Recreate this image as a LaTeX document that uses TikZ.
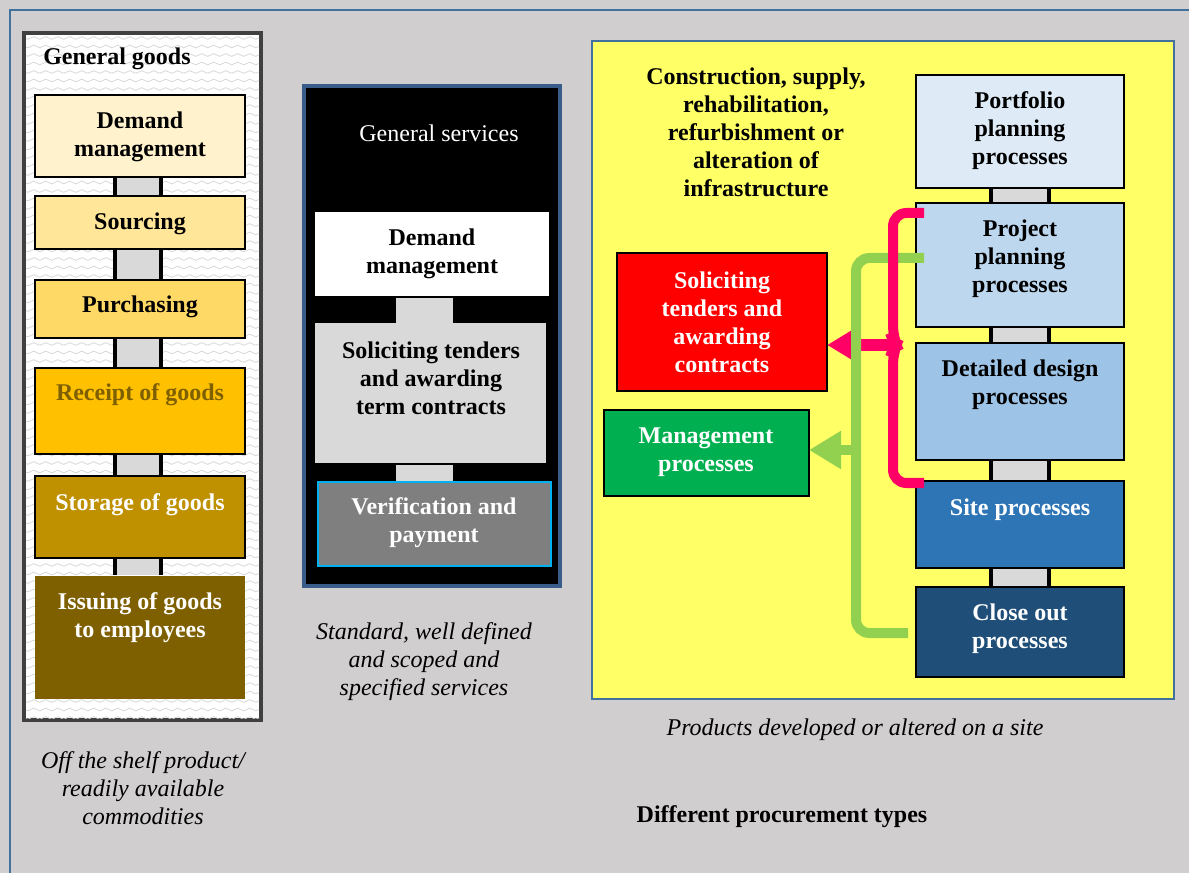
\documentclass[tikz,border=0pt]{standalone}
\usepackage{fontspec}
\setmainfont{Liberation Serif}
\usetikzlibrary{arrows.meta,decorations.pathmorphing,calc}
\definecolor{bg}{HTML}{D0CECE}
\definecolor{frameblue}{HTML}{41719C}
\definecolor{leftframe}{HTML}{404040}
\definecolor{midframe}{HTML}{385D8A}
\definecolor{cA}{HTML}{FFF2CC}
\definecolor{cB}{HTML}{FFE699}
\definecolor{cC}{HTML}{FFD966}
\definecolor{cD}{HTML}{FFC000}
\definecolor{cE}{HTML}{BF9000}
\definecolor{cF}{HTML}{7F6000}
\definecolor{conngray}{HTML}{D9D9D9}
\definecolor{verif}{HTML}{7F7F7F}
\definecolor{cyanb}{HTML}{00B0F0}
\definecolor{yel}{HTML}{FFFF66}
\definecolor{bA}{HTML}{DEEBF7}
\definecolor{bB}{HTML}{BDD7EE}
\definecolor{bC}{HTML}{9DC3E6}
\definecolor{bD}{HTML}{2E75B6}
\definecolor{bE}{HTML}{1F4E79}
\definecolor{redb}{HTML}{FF0000}
\definecolor{greenb}{HTML}{00B050}
\definecolor{pinkl}{HTML}{FF0066}
\definecolor{greenl}{HTML}{92D050}
\tikzset{
  txt/.style={font=\fontsize{18}{21}\selectfont\bfseries, align=center, inner sep=0pt},
  rtxt/.style={font=\fontsize{18}{21}\selectfont, align=center, inner sep=0pt},
  itxt/.style={font=\fontsize{18}{21}\selectfont\itshape, align=center, inner sep=0pt},
  boxbase/.style={rectangle, anchor=north west, inner sep=0pt, outer sep=0pt},
  lbox/.style={boxbase, draw=black, line width=1.2pt, minimum width=157.5pt},
  rbox/.style={boxbase, draw=black, line width=1.4pt, minimum width=156pt},
  lconn/.style={draw=black, line width=3pt, double=conngray, double distance=32pt, shorten <=0.8pt, shorten >=0.8pt},
  rconn/.style={draw=black, line width=3pt, double=conngray, double distance=40.5pt, shorten <=0.9pt, shorten >=0.9pt},
  mconn/.style={draw=conngray, line width=42.75pt},
  wave/.style={decorate, decoration={snake, segment length=9pt, amplitude=1pt}, draw=gray!32, line width=0.55pt},
  pinkline/.style={draw=pinkl, line width=7.5pt},
  greenline/.style={draw=greenl, line width=7.5pt},
}
\begin{document}
\begin{tikzpicture}[x=0.75pt,y=-0.75pt]
\useasboundingbox (0,0) rectangle (1189,873);
\clip (0,0) rectangle (1189,873);
\fill[bg] (0,0) rectangle (1189,873);
\draw[frameblue, line width=1.6pt] (10,910) -- (10,10) -- (1230,10);

% ---------------- left column: general goods
\draw[leftframe, line width=3pt, fill=white] (24,33) rectangle (261,720);
\begin{scope}
  \clip (26,35) rectangle (259,718);
  \foreach \yy in {38,46.5,...,720} \draw[wave] (18,\yy) -- (272,\yy);
\end{scope}
\node[txt, anchor=west] (ggt) at (43,59) {General goods};

\node[lbox, fill=cA, minimum height=61.5pt] (ldm) at (35,95) {};
\node[lbox, fill=cB, minimum height=39.75pt] (lsrc) at (35,196) {};
\node[lbox, fill=cC, minimum height=43.5pt] (lpur) at (35,280) {};
\node[lbox, fill=cD, minimum height=64.5pt] (lrec) at (35,368) {};
\node[lbox, fill=cE, minimum height=61.5pt] (lsto) at (35,476) {};
\node[boxbase, fill=cF, minimum width=157.5pt, minimum height=92.25pt] (liss) at (35,576) {};

\draw[lconn] (138,0 |- ldm.south) -- (138,0 |- lsrc.north);
\draw[lconn] (138,0 |- lsrc.south) -- (138,0 |- lpur.north);
\draw[lconn] (138,0 |- lpur.south) -- (138,0 |- lrec.north);
\draw[lconn] (138,0 |- lrec.south) -- (138,0 |- lsto.north);
\draw[lconn] (138,0 |- lsto.south) -- (138,0 |- liss.north);

\node[txt] (ldmt) at (140,137) {Demand\\management};
\node[txt] (lsrct) at (140,224) {Sourcing};
\node[txt] (lpurt) at (140,307) {Purchasing};
\node[txt, text=cF] (lrect) at (140,395) {Receipt of goods};
\node[txt, text=white] (lstot) at (140,505) {Storage of goods};
\node[txt, text=white] (lisst) at (140,617.5) {Issuing of goods\\to employees};

\node[itxt] (lcap) at (143,788) {Off the shelf product/\\readily available\\commodities};

% ---------------- middle column: general services
\draw[midframe, line width=3pt, fill=black] (304,86) rectangle (560,586);
\node[rtxt, text=white] (gst) at (439,133) {General services};

\node[boxbase, fill=white, minimum width=175.5pt, minimum height=63pt] (mdm) at (315,212) {};
\node[boxbase, fill=conngray, minimum width=173.25pt, minimum height=105pt] (msol) at (315,323) {};
\node[boxbase, fill=verif, draw=cyanb, line width=1.2pt, minimum width=174.75pt, minimum height=63pt] (mver) at (318,482) {};

\draw[mconn] (424.5,0 |- mdm.south) ++(0,2) -- (424.5,0 |- msol.north);
\draw[mconn] (424.5,0 |- msol.south) ++(0,2) -- ($(424.5,0 |- mver.north)+(0,-1)$);

\node[txt] (mdmt) at (432,253.5) {Demand\\management};
\node[txt] (msolt) at (431,378) {Soliciting tenders\\and awarding\\term contracts};
\node[txt, text=white] (mvert) at (434,523) {Verification and\\payment};

\node[itxt] (mcap) at (424,662) {Standard, well defined\\and scoped and\\specified services};

% ---------------- right panel: infrastructure
\draw[frameblue, line width=1.8pt, fill=yel] (592,41) rectangle (1174,699);
\node[txt] (infT) at (756,132.5) {Construction, supply,\\rehabilitation,\\refurbishment or\\alteration of\\infrastructure};

\node[rbox, fill=bA, minimum height=84.75pt] (pf) at (916,75) {};
\node[rbox, fill=bB, minimum height=93pt] (pp) at (916,203) {};
\node[rbox, fill=bC, minimum height=87.75pt] (dd) at (916,343) {};
\node[rbox, fill=bD, minimum height=65.25pt] (sp) at (916,481) {};
\node[rbox, fill=bE, minimum height=67.5pt] (co) at (916,587) {};

\draw[rconn] (1020,0 |- pf.south) -- (1020,0 |- pp.north);
\draw[rconn] (1020,0 |- pp.south) -- (1020,0 |- dd.north);
\draw[rconn] (1020,0 |- dd.south) -- (1020,0 |- sp.north);
\draw[rconn] (1020,0 |- sp.south) -- (1020,0 |- co.north);

\node[txt] (pft) at (1020,131) {Portfolio\\planning\\processes};
\node[txt] (ppt) at (1020,259) {Project\\planning\\processes};
\node[txt] (ddt) at (1020,385) {Detailed design\\processes};
\node[txt, text=white] (spt) at (1020,510) {Site processes};
\node[txt, text=white] (cot) at (1020,629) {Close out\\processes};

\node[boxbase, fill=redb, draw=black, line width=0.8pt, minimum width=157.5pt, minimum height=103.5pt] (sol) at (617,253) {};
\node[boxbase, fill=greenb, draw=black, line width=0.8pt, minimum width=153.75pt, minimum height=64.5pt] (mgm) at (604,410) {};
\node[txt, text=white] (solt) at (722,322) {Soliciting\\tenders and\\awarding\\contracts};
\node[txt, text=white] (mgmt) at (706,452) {Management\\processes};

% connectors
\coordinate (pkA) at (924,213);
\coordinate (pkB) at (893,213);
\coordinate (pkC) at (893,483);
\coordinate (pkD) at (924,483);
\coordinate (pkS) at (890,345);
\coordinate (grA) at (924,258);
\coordinate (grB) at (856,258);
\coordinate (grC) at (856,633);
\coordinate (grD) at (908,633);
\coordinate (grS) at (858,450);

\draw[pinkline, line width=8.5pt, -{Triangle[length=24pt,width=27pt]}] (pkS) -- (pkS -| sol.east);
\draw[greenline, rounded corners=10pt] (grA) -- (grB) -- (grC) -- (grD);
\draw[greenline, -{Triangle[length=24pt,width=27pt]}] (grS) -- (grS -| mgm.east);
\draw[pinkline, rounded corners=10pt] (pkA) -- (pkB) -- (893,339) -- (896,345) -- (893,351) -- (pkC) -- (pkD);

\node[itxt] (pcap) at (855,730) {Products developed or altered on a site};
\node[txt] (title) at (782,817) {Different procurement types};
\end{tikzpicture}
\end{document}
